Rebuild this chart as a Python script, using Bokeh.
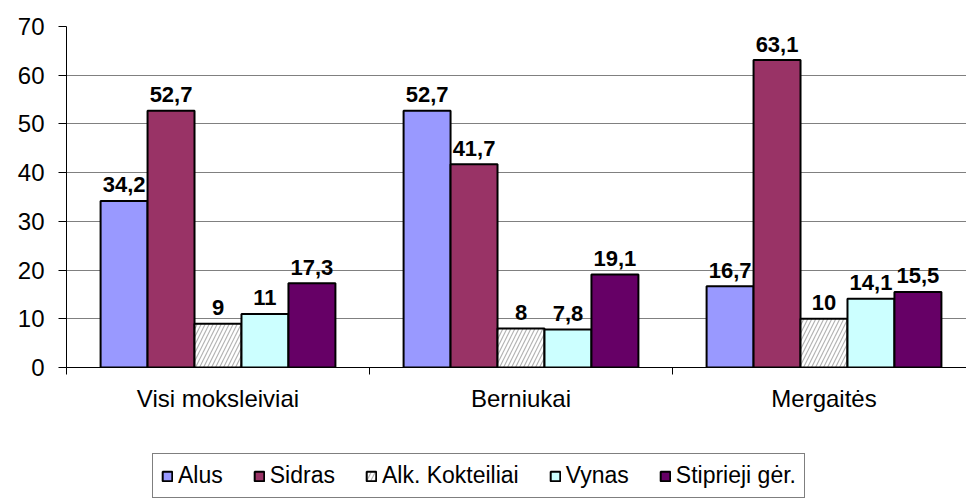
from bokeh.plotting import figure
from bokeh.layouts import column
from bokeh.models import ColumnDataSource, Legend, LegendItem, FixedTicker, Range1d
from bokeh.embed import file_html
from bokeh.resources import INLINE
from bokeh.core.properties import value

# ---- data ----
categories = ["Visi moksleiviai", "Berniukai", "Mergaitės"]
series_names = ["Alus", "Sidras", "Alk. Kokteiliai", "Vynas", "Stiprieji gėr."]
alus = [34.2, 52.7, 16.7]
sidras = [52.7, 41.7, 63.1]
kokteiliai = [9, 8, 10]
vynas = [11, 7.8, 14.1]
stiprieji = [17.3, 19.1, 15.5]
y_ticks = [0, 10, 20, 30, 40, 50, 60, 70]

series_values = [alus, sidras, kokteiliai, vynas, stiprieji]
colors = ["#9999FF", "#993366", "#FFFFFF", "#CCFFFF", "#660066"]
hatches = [None, None, "/", None, None]

FONT = "Liberation Sans"
GROUP_PX = 303
FRAME_PX = 900
BAR_W = 0.155

def fmt(v):
    return f"{v:g}".replace(".", ",")

def bar_style(k):
    kw = dict(fill_color=colors[k], line_color="black", line_width=2)
    if hatches[k]:
        kw.update(hatch_pattern=hatches[k], hatch_color="#B4B4B4", hatch_scale=8, hatch_weight=1.2)
    return kw

p = figure(width=966, height=420, output_backend="svg", toolbar_location=None,
           x_range=Range1d(0, FRAME_PX / GROUP_PX), y_range=Range1d(0, 70),
           min_border_left=66, min_border_right=0, min_border_top=26, min_border_bottom=53)
p.outline_line_color = None

n = len(series_names)
for k, (name, vals) in enumerate(zip(series_names, series_values)):
    off = (k - (n - 1) / 2) * BAR_W
    xs = [i + 0.5 + off for i in range(len(categories))]
    src = ColumnDataSource(dict(x=xs, top=vals, label=[fmt(v) for v in vals]))
    p.vbar(x="x", top="top", width=BAR_W, bottom=0, source=src, **bar_style(k))
    p.text(x="x", y="top", text="label", source=src, text_align="center",
           text_baseline="alphabetic", y_offset=-16, text_font=value(FONT),
           text_font_size="22px", text_font_style="bold", text_color="black")

# axes
p.yaxis.ticker = FixedTicker(ticks=y_ticks)
p.yaxis.major_label_text_font = FONT
p.yaxis.major_label_text_font_size = "24px"
p.yaxis.major_label_text_color = "black"
p.yaxis.major_tick_out = 8
p.yaxis.major_tick_in = 0
p.yaxis.minor_tick_line_color = None
p.yaxis.major_label_standoff = 14
p.yaxis.axis_line_color = "black"
p.yaxis.major_tick_line_color = "black"

p.xaxis.ticker = FixedTicker(ticks=[i + 0.5 for i in range(len(categories))],
                             minor_ticks=list(range(len(categories) + 1)))
p.xaxis.major_label_overrides = {i + 0.5: c for i, c in enumerate(categories)}
p.xaxis.major_label_text_font = FONT
p.xaxis.major_label_text_font_size = "24px"
p.xaxis.major_label_text_color = "black"
p.xaxis.major_tick_line_color = None
p.xaxis.major_tick_out = 0
p.xaxis.major_tick_in = 0
p.xaxis.minor_tick_out = 7
p.xaxis.minor_tick_in = 0
p.xaxis.minor_tick_line_color = "black"
p.xaxis.major_label_standoff = 10
p.xaxis.axis_line_color = "black"

p.xgrid.grid_line_color = None
p.ygrid.ticker = FixedTicker(ticks=y_ticks)
p.ygrid.grid_line_color = "#808080"
p.ygrid.grid_line_width = 1

# legend in its own strip below the chart (proxy glyphs carry no drawable position)
lf = figure(width=966, height=80, output_backend="svg", toolbar_location=None,
            x_range=Range1d(0, 1), y_range=Range1d(0, 1), x_axis_type=None, y_axis_type=None,
            min_border=0)
lf.outline_line_color = None
lf.xgrid.visible = False
lf.ygrid.visible = False
items = []
for k, (name, vals) in enumerate(zip(series_names, series_values)):
    proxy = ColumnDataSource(dict(x=[float("nan")] * len(vals), top=vals))
    r = lf.vbar(x="x", top="top", width=0.1, source=proxy, **bar_style(k))
    items.append(LegendItem(label=name, renderers=[r]))

legend = Legend(items=items, orientation="horizontal", location=(86, 2))
legend.label_text_font = FONT
legend.label_text_font_size = "23px"
legend.label_text_color = "black"
legend.glyph_width = 12
legend.glyph_height = 12
legend.label_standoff = 5
legend.spacing = 30
legend.padding = 8
legend.margin = 0
legend.border_line_color = "black"
legend.border_line_width = 1
legend.background_fill_color = "white"
lf.add_layout(legend, "center")

layout = column(p, lf, spacing=0)
open("out.html", "w").write(file_html(layout, INLINE))
